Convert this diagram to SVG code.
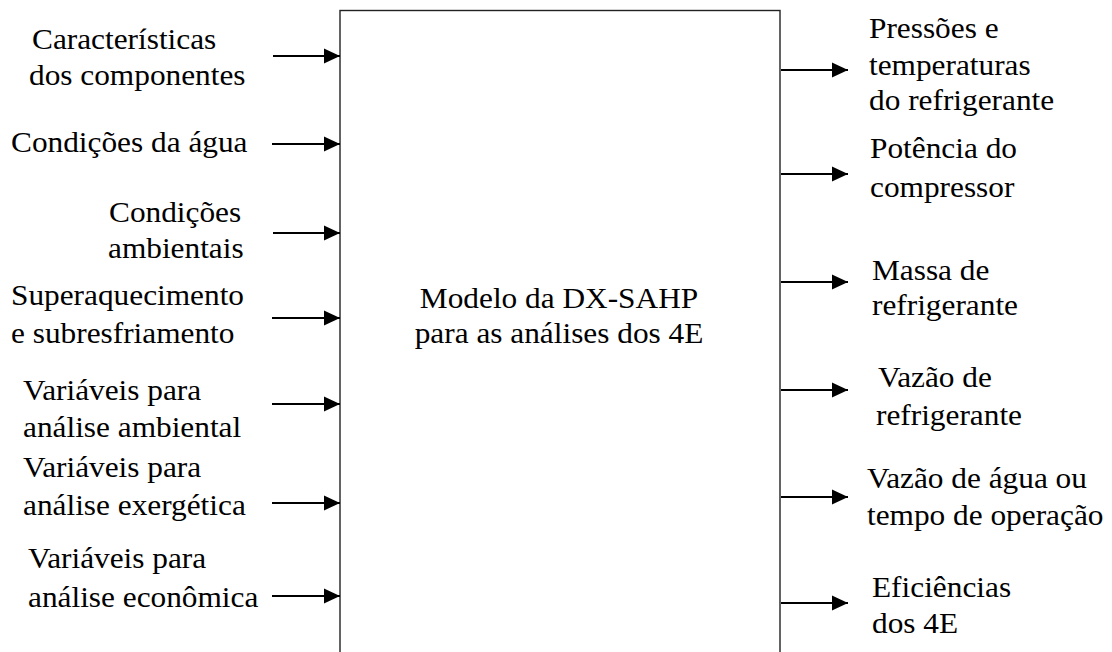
<svg xmlns="http://www.w3.org/2000/svg" width="1112" height="652" viewBox="0 0 1112 652">
<style>
text{font-family:"Liberation Serif","Times New Roman",serif;font-size:29px;fill:#000}
.c{text-anchor:middle}
.ln{stroke:#000;stroke-width:2;fill:none}
.box{fill:#fff;stroke:#222;stroke-width:1.4}
</style>
<defs>
<marker id="ah" markerUnits="userSpaceOnUse" markerWidth="17" markerHeight="16" refX="16" refY="8" orient="auto">
<path d="M0,0.5 L16,8 L0,15.5 z" fill="#000"/>
</marker>
</defs>
<rect width="1112" height="652" fill="#fff"/>
<g id="model">
<rect class="box" x="340" y="10.5" width="440" height="660"/>
<text class="c" transform="translate(559,308) scale(1.08,1)">Modelo da DX-SAHP</text>
<text class="c" transform="translate(559,343) scale(1.08,1)">para as análises dos 4E</text>
</g>
<g id="in1"><text transform="translate(32,49) scale(1.08,1)">Características</text><text transform="translate(29,85) scale(1.08,1)">dos componentes</text></g>
<g id="in2"><text transform="translate(11,152) scale(1.08,1)">Condições da água</text></g>
<g id="in3"><text transform="translate(109,222) scale(1.08,1)">Condições</text><text transform="translate(108,258) scale(1.08,1)">ambientais</text></g>
<g id="in4"><text transform="translate(11,305) scale(1.08,1)">Superaquecimento</text><text transform="translate(11,343) scale(1.08,1)">e subresfriamento</text></g>
<g id="in5"><text transform="translate(23,400) scale(1.08,1)">Variáveis para</text><text transform="translate(23,437) scale(1.08,1)">análise ambiental</text></g>
<g id="in6"><text transform="translate(23,477) scale(1.08,1)">Variáveis para</text><text transform="translate(23,515) scale(1.08,1)">análise exergética</text></g>
<g id="in7"><text transform="translate(28,568) scale(1.08,1)">Variáveis para</text><text transform="translate(28,607) scale(1.08,1)">análise econômica</text></g>
<g id="out1"><text transform="translate(869,38) scale(1.08,1)">Pressões e</text><text transform="translate(869,75) scale(1.08,1)">temperaturas</text><text transform="translate(869,110) scale(1.08,1)">do refrigerante</text></g>
<g id="out2"><text transform="translate(870,158) scale(1.08,1)">Potência do</text><text transform="translate(870,197) scale(1.08,1)">compressor</text></g>
<g id="out3"><text transform="translate(872,280) scale(1.08,1)">Massa de</text><text transform="translate(872,315) scale(1.08,1)">refrigerante</text></g>
<g id="out4"><text transform="translate(878,387) scale(1.08,1)">Vazão de</text><text transform="translate(876,425) scale(1.08,1)">refrigerante</text></g>
<g id="out5"><text transform="translate(867,488) scale(1.08,1)">Vazão de água ou</text><text transform="translate(867,525) scale(1.08,1)">tempo de operação</text></g>
<g id="out6"><text transform="translate(872,597) scale(1.08,1)">Eficiências</text><text transform="translate(872,633) scale(1.08,1)">dos 4E</text></g>
<g id="connectors">
<line class="ln" x1="273" y1="56" x2="340" y2="56" marker-end="url(#ah)"/>
<line class="ln" x1="272" y1="144" x2="340" y2="144" marker-end="url(#ah)"/>
<line class="ln" x1="273" y1="233" x2="340" y2="233" marker-end="url(#ah)"/>
<line class="ln" x1="272" y1="318" x2="340" y2="318" marker-end="url(#ah)"/>
<line class="ln" x1="272" y1="404" x2="340" y2="404" marker-end="url(#ah)"/>
<line class="ln" x1="272" y1="503" x2="340" y2="503" marker-end="url(#ah)"/>
<line class="ln" x1="272" y1="596" x2="340" y2="596" marker-end="url(#ah)"/>
<line class="ln" x1="781" y1="70" x2="848" y2="70" marker-end="url(#ah)"/>
<line class="ln" x1="781" y1="174" x2="848" y2="174" marker-end="url(#ah)"/>
<line class="ln" x1="781" y1="282" x2="848" y2="282" marker-end="url(#ah)"/>
<line class="ln" x1="781" y1="390" x2="848" y2="390" marker-end="url(#ah)"/>
<line class="ln" x1="781" y1="497" x2="848" y2="497" marker-end="url(#ah)"/>
<line class="ln" x1="781" y1="603" x2="848" y2="603" marker-end="url(#ah)"/>
</g>
</svg>
